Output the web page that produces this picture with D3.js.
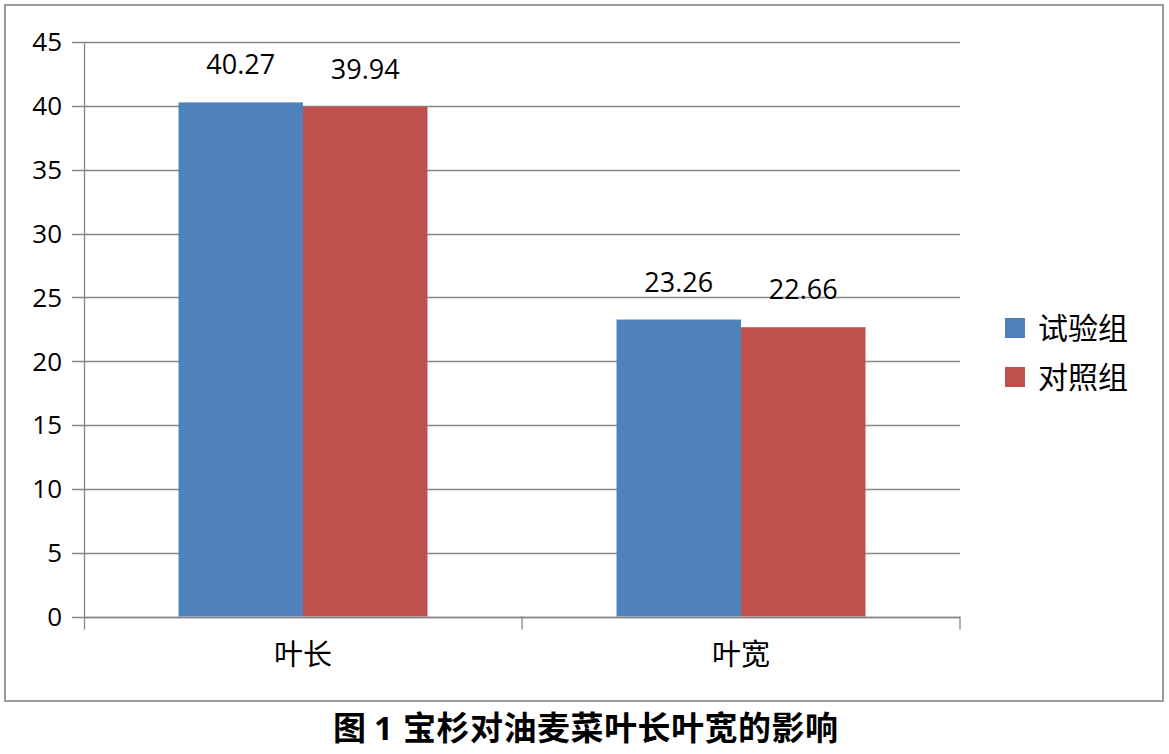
<!DOCTYPE html>
<html><head><meta charset="utf-8">
<script src="https://cdn.jsdelivr.net/npm/d3@7"></script>
<style>
html,body{margin:0;padding:0;background:#fff;}
text{font-family:"Open Sans","Noto Sans CJK SC",sans-serif;}
.cjk{font-family:"Noto Sans CJK SC",sans-serif;}
</style></head>
<body>
<svg id="chart" width="1169" height="754"></svg>
<script>
const categories = ["叶长", "叶宽"];
const seriesNames = ["试验组", "对照组"];
const trialValues = [40.27, 23.26];
const controlValues = [39.94, 22.66];
const yTicks = [0, 5, 10, 15, 20, 25, 30, 35, 40, 45];
const colors = ["#4F81BD", "#C0504D"];
const titlePrefix = "图";
const titleNum = "1";
const titleMain = "宝杉对油麦菜叶长叶宽的影响";

(function () {
const svg = d3.select("#chart");
svg.append("rect").attr("x", 5).attr("y", 5).attr("width", 1158).attr("height", 696)
  .attr("fill", "#fff").attr("stroke", "#9a9a9a").attr("stroke-width", 2);

const pLeft = 84, pRight = 960, pTop = 42, pBottom = 616.5;
const y = d3.scaleLinear().domain([0, 45]).range([pBottom, pTop]);
const x0 = d3.scaleBand().domain(categories).range([pLeft, pRight]).paddingInner(0.4316).paddingOuter(0.2158);
const x1 = d3.scaleBand().domain(seriesNames).range([0, x0.bandwidth()]);

// gridlines
svg.append("g").selectAll("line").data(yTicks).join("line")
  .attr("x1", pLeft - 12).attr("x2", pRight)
  .attr("y1", d => Math.round(y(d)) + 0.5).attr("y2", d => Math.round(y(d)) + 0.5)
  .attr("stroke", "#878787").attr("stroke-width", 1.3);

// y labels
svg.append("g").selectAll("text").data(yTicks).join("text")
  .attr("x", 62).attr("y", d => y(d)).attr("dy", "0.36em")
  .attr("text-anchor", "end").attr("font-size", 26).attr("fill", "#000")
  .text(d => d);

// bars
const data = categories.map((c, i) => ({cat: c, vals: [trialValues[i], controlValues[i]]}));
const groups = svg.append("g").selectAll("g").data(data).join("g")
  .attr("transform", d => `translate(${x0(d.cat)},0)`);
groups.selectAll("rect").data(d => d.vals.map((v, j) => ({name: seriesNames[j], v, j}))).join("rect")
  .attr("x", d => x1(d.name)).attr("width", x1.bandwidth())
  .attr("y", d => y(d.v)).attr("height", d => y(0) - y(d.v))
  .attr("fill", d => colors[d.j]);
groups.selectAll("text").data(d => d.vals.map((v, j) => ({name: seriesNames[j], v, j}))).join("text")
  .attr("x", d => x1(d.name) + x1.bandwidth() / 2).attr("y", d => y(d.v) - 28)
  .attr("text-anchor", "middle").attr("font-size", 27).attr("fill", "#000")
  .text(d => d.v.toFixed(2));

// axes lines
svg.append("line").attr("x1", pLeft + 0.5).attr("x2", pLeft + 0.5).attr("y1", pTop).attr("y2", pBottom + 13)
  .attr("stroke", "#878787").attr("stroke-width", 1.3);
svg.append("line").attr("x1", pLeft).attr("x2", pRight).attr("y1", Math.round(pBottom) + 0.5).attr("y2", Math.round(pBottom) + 0.5)
  .attr("stroke", "#878787").attr("stroke-width", 1.3);
const catTicks = categories.map(c => x0(c) + x0.bandwidth() / 2 + x0.step() / 2);
svg.append("g").selectAll("line").data(catTicks).join("line")
  .attr("x1", d => d).attr("x2", d => d).attr("y1", pBottom).attr("y2", pBottom + 13)
  .attr("stroke", "#878787").attr("stroke-width", 1.3);

// category labels
svg.append("g").selectAll("text").data(categories).join("text")
  .attr("class", "cjk")
  .attr("x", d => x0(d) + x0.bandwidth() / 2).attr("y", 655).attr("dy", "0.36em")
  .attr("text-anchor", "middle").attr("font-size", 29).attr("fill", "#000")
  .text(d => d);

// legend
const leg = svg.append("g").selectAll("g").data(seriesNames).join("g")
  .attr("transform", (d, i) => `translate(1005,${318 + i * 49})`);
leg.append("rect").attr("width", 20).attr("height", 20).attr("fill", (d, i) => colors[i]);
leg.append("text").attr("class", "cjk").attr("x", 33).attr("y", 10).attr("dy", "0.36em")
  .attr("font-size", 30).attr("fill", "#000").text(d => d);

// title
const t = svg.append("text").attr("class", "cjk").attr("x", 333).attr("y", 728).attr("dy", "0.36em")
  .attr("font-size", 33).attr("font-weight", "bold").attr("fill", "#000");
t.append("tspan").text(titlePrefix);
t.append("tspan").attr("dx", 8).style("font-family", "'Open Sans',sans-serif").text(titleNum);
t.append("tspan").attr("x", 403).attr("textLength", 435).attr("lengthAdjust", "spacing").text(titleMain);
})();
</script>
</body></html>
